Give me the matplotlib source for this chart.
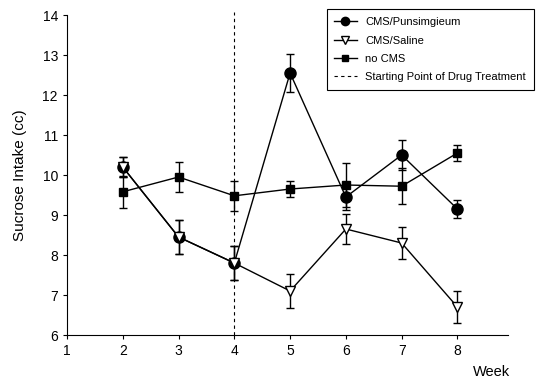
import numpy as np
import matplotlib
matplotlib.use("Agg")
import matplotlib.pyplot as plt
from matplotlib.lines import Line2D

plt.rcParams['font.family'] = ['Liberation Sans', 'DejaVu Sans']

weeks = [2, 3, 4, 5, 6, 7, 8]

# CMS/Punsimgieum (same animals as saline before treatment)
puns = [10.2, 8.45, 7.8, 12.55, 9.45, 10.5, 9.15]
puns_err = [0.25, 0.42, 0.42, 0.47, 0.32, 0.38, 0.22]

saline = [10.2, 8.45, 7.8, 7.1, 8.65, 8.3, 6.7]
saline_err = [0.25, 0.42, 0.42, 0.42, 0.38, 0.4, 0.4]

nocms = [9.58, 9.95, 9.48, 9.65, 9.75, 9.72, 10.55]
nocms_err = [0.4, 0.38, 0.38, 0.2, 0.55, 0.45, 0.2]

drug_start = 4

fig = plt.figure(figsize=(5.46, 3.90), dpi=100)
ax = fig.add_axes([0.1227, 0.141, 0.807, 0.8205])

ebkw = dict(color='black', lw=1, elinewidth=1, capsize=3, capthick=1)
ax.errorbar(weeks, nocms, yerr=nocms_err, marker='s', ms=6, mfc='black', mec='black',
            zorder=3, **ebkw)
ax.errorbar(weeks, puns, yerr=puns_err, marker='o', ms=8, mfc='black', mec='black',
            zorder=4, **ebkw)
ax.errorbar(weeks, saline, yerr=saline_err, marker='v', ms=6.5, mfc='white', mec='black',
            zorder=5, **ebkw)
ax.axvline(drug_start, ymax=1.01, color='black', ls=(0, (3, 3)), lw=0.8, clip_on=False)

ax.set_xlim(1, 8.9)
ax.set_ylim(6, 14)
ax.set_xticks(range(1, 9))
ax.set_yticks(range(6, 15))
ax.spines['top'].set_visible(False)
ax.spines['right'].set_visible(False)
ax.tick_params(direction='out', length=3, labelsize=10)
ax.set_ylabel('Sucrose Intake (cc)', fontsize=11)
ax.yaxis.set_label_coords(-0.09, 0.5)
fig.text(0.935, 0.035, 'Week', fontsize=10.5, ha='right')

# legend (line + marker only, like the original)
handles = [
    Line2D([], [], color='black', lw=1, marker='o', ms=6, mfc='black'),
    Line2D([], [], color='black', lw=1, marker='v', ms=5.5, mfc='white', mec='black'),
    Line2D([], [], color='black', lw=1, marker='s', ms=4.5, mfc='black'),
    Line2D([], [], color='black', lw=0.8, ls=(0, (3, 3))),
]
labels = ['CMS/Punsimgieum', 'CMS/Saline', 'no CMS', 'Starting Point of Drug Treatment']
leg = fig.legend(handles, labels,
                 loc='upper right', bbox_to_anchor=(0.988, 0.99), fontsize=8,
                 frameon=True, fancybox=False, edgecolor='black', framealpha=1,
                 handlelength=2.0, borderpad=0.7, labelspacing=0.75)
leg.get_frame().set_linewidth(0.8)

fig.savefig('out.png', dpi=100)
